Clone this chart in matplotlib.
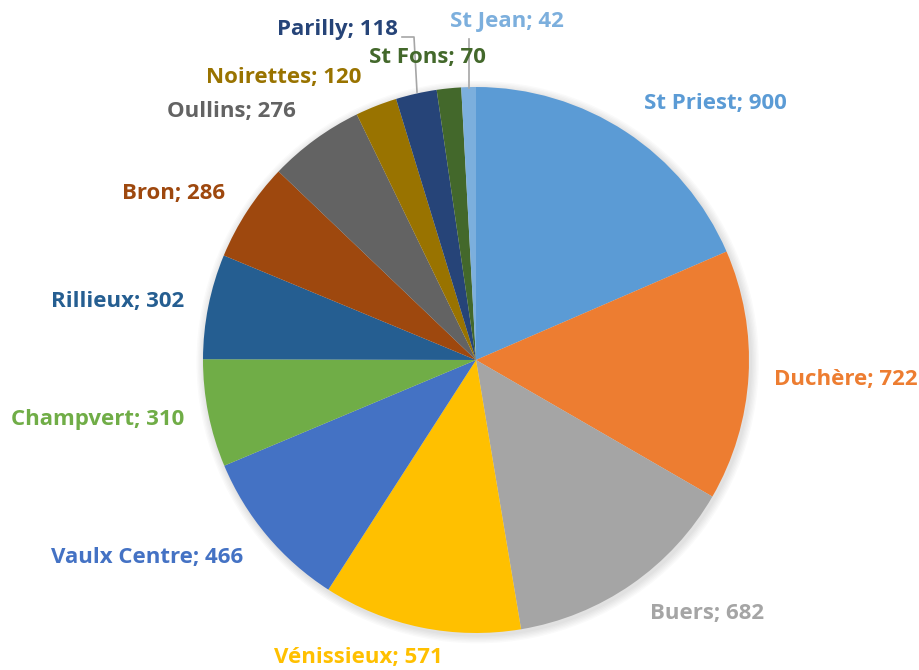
import matplotlib
matplotlib.use("Agg")
import matplotlib.pyplot as plt
import numpy as np

labels = ["St Priest", "Duchère", "Buers", "Vénissieux", "Vaulx Centre", "Champvert",
          "Rillieux", "Bron", "Oullins", "Noirettes", "Parilly", "St Fons", "St Jean"]
values = [900, 722, 682, 571, 466, 310, 302, 286, 276, 120, 118, 70, 42]
colors = ["#5B9BD5", "#ED7D31", "#A5A5A5", "#FFC000", "#4472C4", "#70AD47",
          "#255E91", "#9E480E", "#636363", "#997300", "#264478", "#43682B", "#7CAFDD"]
text_colors = ["#5B9BD5", "#ED7D31", "#A5A5A5", "#FFC000", "#4472C4", "#70AD47",
               "#255E91", "#9E480E", "#636363", "#997300", "#264478", "#43682B", "#7CAFDD"]

W, H = 920, 670
CX, CY, R = 476, 360, 273

# label centres in pixel layout (text placement)
label_px = [(715, 103), (846, 380), (707, 614), (358, 657), (147, 558), (98, 420),
            (118, 301), (174, 193), (231, 112), (284, 77), (337, 30), (427, 58), (507, 22)]

def to_data(px, py):
    return ((px - CX) / R, (CY - py) / R)

fig = plt.figure(figsize=(W / 100, H / 100), dpi=100)
ax = fig.add_axes([0, 0, 1, 1])

# soft shadow
for i in range(6):
    c = plt.Circle((0.006, -0.008), 1.0 + 0.005 * (i + 1), color="black", alpha=0.02, lw=0)
    ax.add_patch(c)

ax.pie(values, colors=colors, startangle=90, counterclock=False, radius=1.0,
       center=(0, 0), wedgeprops=dict(linewidth=0), frame=True)
ax.set_xlim(-CX / R, (W - CX) / R)
ax.set_ylim(-(H - CY) / R, CY / R)
ax.set_aspect("equal")
ax.axis("off")

for lab, v, col, (px, py) in zip(labels, values, text_colors, label_px):
    x, y = to_data(px, py)
    ax.text(x, y, f"{lab}; {v}", color=col, fontsize=16, fontweight="bold",
            family=["Open Sans", "DejaVu Sans"], ha="center", va="center")

# leader lines for small slices
p = [to_data(402, 37), to_data(414, 37), to_data(417, 92)]
ax.plot([q[0] for q in p], [q[1] for q in p], color="#A6A6A6", lw=1.2)
p = [to_data(469, 39), to_data(469, 88)]
ax.plot([q[0] for q in p], [q[1] for q in p], color="#A6A6A6", lw=1.2)

fig.savefig("out.png", dpi=100)
